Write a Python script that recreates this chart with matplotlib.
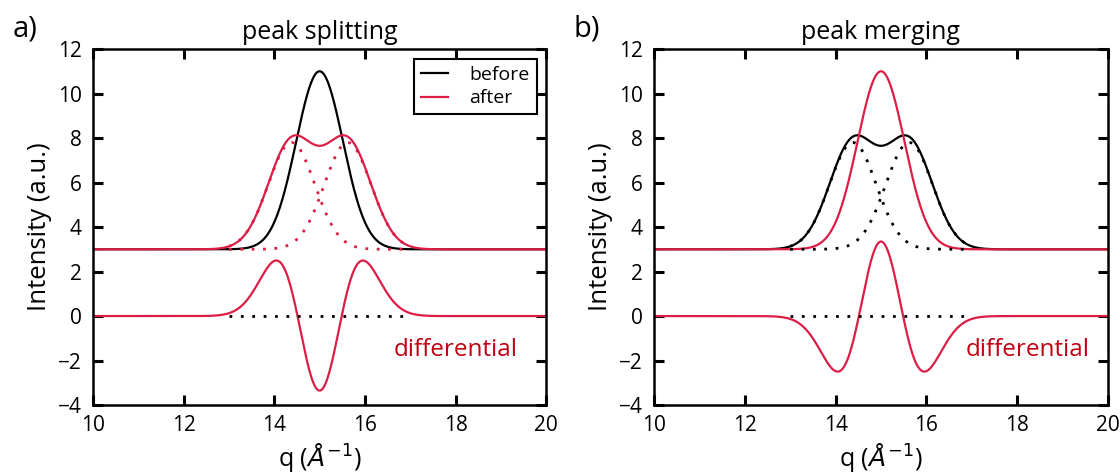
import numpy as np
import matplotlib.pyplot as plt

# peak parameters
q_lim = [10, 20]
baseline = 3.0
single_center = 15.0
single_height = 8.0
single_sigma = 0.515
split_centers = [14.38, 15.62]
split_heights = [4.8, 4.8]
split_sigma = 0.515
dotted_range = [13, 17]

panel_labels = ['a)', 'b)']
panel_titles = ['peak splitting', 'peak merging']
legend_labels = ['before', 'after']
x_ticks = [10, 12, 14, 16, 18, 20]
y_ticks = [-4, -2, 0, 2, 4, 6, 8, 10, 12]

RED = '#dc1e46'
TXT_RED = '#c00012'


def gauss(x, c, h, s):
    return h * np.exp(-(x - c) ** 2 / (2 * s ** 2))


plt.rcParams['font.family'] = ['Open Sans', 'DejaVu Sans']
plt.rcParams['mathtext.fontset'] = 'dejavusans'

q = np.linspace(q_lim[0], q_lim[1], 2001)
qd = np.linspace(dotted_range[0], dotted_range[1], 801)

single = gauss(q, single_center, single_height, single_sigma)
split_parts = [gauss(q, c, h, split_sigma) for c, h in zip(split_centers, split_heights)]
split = sum(split_parts)
split_parts_d = [gauss(qd, c, h, split_sigma) for c, h in zip(split_centers, split_heights)]

fig = plt.figure(figsize=(11.2, 4.76), dpi=100, facecolor='w')
axes = [fig.add_axes([0.0829, 0.149, 0.4049, 0.748]),
        fig.add_axes([0.5838, 0.149, 0.4056, 0.748])]

dot = (0, (1, 3.1))
for i, ax in enumerate(axes):
    if i == 0:
        before, after = single, split
        dot_col = RED
    else:
        before, after = split, single
        dot_col = 'k'
    l1, = ax.plot(q, baseline + before, color='k', lw=1.6)
    l2, = ax.plot(q, baseline + after, color=RED, lw=1.6)
    for part in split_parts_d:
        ax.plot(qd, baseline + part, color=dot_col, lw=2, ls=dot)
    ax.plot(q, after - before, color=RED, lw=1.6)
    ax.plot(dotted_range, [0, 0], color='k', lw=2, ls=dot)

    ax.set_xlim(q_lim)
    ax.set_ylim(-4, 12)
    ax.set_xticks(x_ticks)
    ax.set_yticks(y_ticks)
    ax.tick_params(direction='in', length=7, width=2.2, top=True, right=True,
                   labelsize=15, pad=7)
    ax.tick_params(axis='y', pad=8)
    for sp in ax.spines.values():
        sp.set_linewidth(1.8)
    ax.set_xlabel(r'q ($\AA^{-1}$)', fontsize=18, labelpad=4)
    ax.set_ylabel('Intensity (a.u.)', fontsize=18.5, labelpad=4)
    ax.set_title(panel_titles[i], fontsize=18, pad=7)
    tx = 19.37 if i == 0 else 19.6
    ax.text(tx, -1.53, 'differential', color=TXT_RED, fontsize=17.5,
            ha='right', va='center')
    if i == 0:
        leg = ax.legend([l1, l2], legend_labels, loc='upper right', fontsize=14,
                        fancybox=False, framealpha=1, handlelength=1.4,
                        borderaxespad=0.5, borderpad=0.35, labelspacing=0.3,
                        handletextpad=1.1)
        leg.get_frame().set_edgecolor('k')
        leg.get_frame().set_linewidth(1.5)

fig.text(0.011, 0.94, panel_labels[0], fontsize=21, va='center')
fig.text(0.5125, 0.94, panel_labels[1], fontsize=21, va='center')

fig.savefig('out.png', dpi=100, facecolor='w')
